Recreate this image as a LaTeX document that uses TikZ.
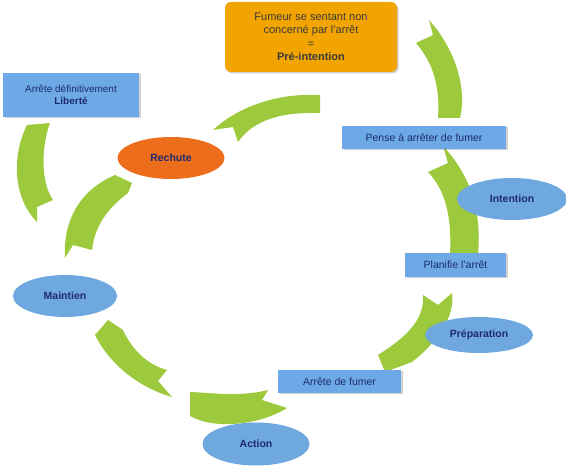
\documentclass[tikz,border=0pt]{standalone}
\usepackage{fontspec}
\setmainfont{Liberation Sans}
\usetikzlibrary{shapes.geometric,shadows}
\definecolor{agreen}{HTML}{9DCA3C}
\definecolor{boxblue}{HTML}{6DA9E6}
\definecolor{ellblue}{HTML}{6FA7DF}
\definecolor{navy}{HTML}{1F2B6E}
\definecolor{gold}{HTML}{F2A500}
\definecolor{rorange}{HTML}{EC6D1C}
\definecolor{dgray}{HTML}{3A3A3A}
\begin{document}
\begin{tikzpicture}[x=1pt,y=-1pt,
 arr/.style={fill=agreen, draw=none},
 boxshadow/.style={drop shadow={shadow xshift=1.5pt, shadow yshift=-1.5pt, opacity=0.18, fill=black}},
 box/.style={rectangle, fill=boxblue, draw=none, text=navy, font=\fontsize{10}{12.5}\selectfont, align=center, inner sep=0pt, boxshadow},
 ell/.style={ellipse, fill=ellblue, draw=none, text=navy, font=\bfseries\fontsize{10.5}{12}\selectfont, inner sep=0pt}]
\path[use as bounding box] (0,0) rectangle (566,468);

% green curved arrows
\fill[arr] (416,43) -- (433,35) -- (429,20) .. controls (452,45) and (468,85) .. (460,118) -- (438,118) .. controls (440,90) and (435,65) .. (416,43) -- cycle;
\fill[arr] (443,146) .. controls (470,175) and (482,210) .. (478,255) -- (450,255) .. controls (452,215) and (445,190) .. (428,172) -- (448,163) -- cycle;
\fill[arr] (423,295) -- (438,305) -- (452,293) .. controls (455,315) and (440,340) .. (412,362) -- (385,372) -- (378,355) .. controls (405,338) and (425,320) .. (423,295) -- cycle;
\fill[arr] (268,390) .. controls (240,397) and (215,393) .. (190,392) -- (190,416) .. controls (215,430) and (260,425) .. (287,408) -- (262,400) -- cycle;
\fill[arr] (95,335) -- (108,320) -- (123,330) .. controls (132,350) and (148,365) .. (167,370) -- (158,381) -- (172,397) .. controls (140,388) and (110,365) .. (95,335) -- cycle;
\fill[arr] (65,258) .. controls (63,220) and (80,190) .. (115,175) -- (132,183) -- (128,193) .. controls (108,208) and (95,225) .. (92,250) -- (73,245) -- cycle;
\fill[arr] (27,125) -- (50,123) .. controls (40,150) and (42,185) .. (53,200) -- (37,207) -- (37,222) .. controls (15,200) and (10,160) .. (27,125) -- cycle;
\fill[arr] (213,130) .. controls (240,105) and (280,93) .. (320,95) -- (320,113) .. controls (285,112) and (255,118) .. (238,142) -- (233,127) -- cycle;

% boxes
\node[rectangle, rounded corners=6pt, fill=gold, text=dgray, align=center, inner sep=0pt, minimum width=172pt, minimum height=70pt, font=\fontsize{11}{13.5}\selectfont, boxshadow] (pre) at (311,37) {Fumeur se sentant non\\concerné par l’arrêt\\=\\\textbf{Pré-intention}};
\node[box, minimum width=136pt, minimum height=44pt] (lib) at (71,95) {Arrête définitivement\\\textbf{Liberté}};
\node[box, minimum width=164pt, minimum height=23pt, font=\fontsize{10.5}{12.5}\selectfont] (pense) at (424,137.5) {Pense à arrêter de fumer};
\node[box, minimum width=101pt, minimum height=24pt, font=\fontsize{10.5}{12.5}\selectfont] (plan) at (455.5,265) {Planifie l’arrêt};
\node[box, minimum width=123pt, minimum height=23pt, font=\fontsize{10.5}{12.5}\selectfont] (arret) at (339.5,381.5) {Arrête de fumer};

% ellipses
\node[ell, minimum width=110pt, minimum height=42pt] (int) at (512,199) {Intention};
\node[ell, minimum width=108pt, minimum height=36pt] (prep) at (479,335) {Préparation};
\node[ell, minimum width=107pt, minimum height=43pt] (act) at (256,444) {Action};
\node[ell, minimum width=104pt, minimum height=42pt] (main) at (65,296) {Maintien};
\node[ell, fill=rorange, minimum width=107pt, minimum height=42pt] (rech) at (171,158) {Rechute};
\end{tikzpicture}
\end{document}
